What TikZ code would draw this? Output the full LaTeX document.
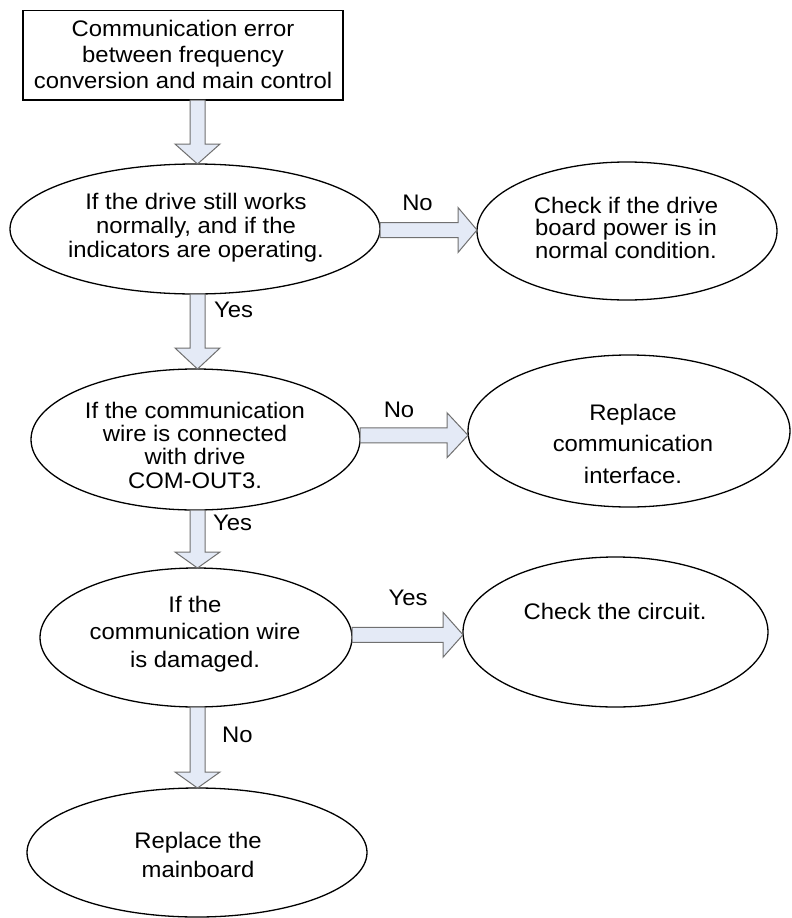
\documentclass[tikz,border=0pt]{standalone}
\usepackage{fontspec}
\setmainfont{Liberation Sans}[FakeStretch=1.06]
\usetikzlibrary{shapes.geometric,calc}
\definecolor{arrfill}{HTML}{E4EAF6}
\definecolor{arrline}{HTML}{707070}
\tikzset{
  ell/.style={ellipse, draw=black, line width=1.3pt, inner sep=0pt, outer sep=0pt, fill=white},
  boxnode/.style={rectangle, draw=black, line width=1.3pt, inner sep=0pt, outer sep=0pt, fill=white},
  txt/.style={align=center, inner sep=0pt, anchor=base, font=\fontsize{22.5}{#1}\selectfont},
  txt/.default=24,
  lbl/.style={inner sep=0pt, font=\fontsize{22.5}{27}\selectfont},
  barrow/.style={draw=arrline, fill=arrfill, line width=1pt, line join=miter},
}
% vertical block arrow: #1 source, #2 target, #3 head length
\newcommand{\blockdown}[3]{%
  \draw[barrow] let \p1=(#1), \p2=(#2) in
    (190pt,\y1) -- (205pt,\y1) -- (205pt,\y2+#3) -- (220pt,\y2+#3) -- (197.5pt,\y2)
    -- (175pt,\y2+#3) -- (190pt,\y2+#3) -- cycle;
}
% horizontal block arrow
\newcommand{\blockright}[3]{%
  \draw[barrow] let \p1=(#1), \p2=(#2), \p3=($(#1)!0.5!(#2)$) in
    (\x1,\y3+7.5pt) -- (\x2-#3,\y3+7.5pt) -- (\x2-#3,\y3+22.5pt) -- (\x2,\y3)
    -- (\x2-#3,\y3-22.5pt) -- (\x2-#3,\y3-7.5pt) -- (\x1,\y3-7.5pt) -- cycle;
}
\begin{document}
\begin{tikzpicture}[x=1pt,y=-1pt]
\useasboundingbox[fill=white] (0,0) rectangle (792,918);

% shapes
\node[boxnode, minimum width=320pt, minimum height=89.3pt] (top) at (183,55.35) {};
\node[ell, minimum width=370pt, minimum height=130pt] (e1) at (195,229) {};
\node[ell, minimum width=300pt, minimum height=138pt] (e2) at (627,231) {};
\node[ell, minimum width=329pt, minimum height=141pt] (e3) at (195.5,439.5) {};
\node[ell, minimum width=322pt, minimum height=152pt] (e4) at (629,431) {};
\node[ell, minimum width=312pt, minimum height=139pt] (e5) at (196,637.5) {};
\node[ell, minimum width=305pt, minimum height=150pt] (e6) at (615.5,632) {};
\node[ell, minimum width=340pt, minimum height=129pt] (e7) at (197,852.5) {};

% connectors
\blockdown{top.south}{e1.north}{20pt}
\blockright{e1.east}{e2.west}{19pt}
\blockdown{e1.south}{e3.north}{21pt}
\blockright{e3.east}{e4.west}{21pt}
\blockdown{e3.south}{e5.north}{16pt}
\blockright{e5.east}{e6.west}{20pt}
\blockdown{e5.south}{e7.north}{16pt}

% texts (anchor = baseline of last line)
\node[txt=26] (ttop) at (183,88) {Communication error\\between frequency\\conversion and main control};
\node[txt=23.6] (t1) at (196,257) {If the drive still works\\normally, and if the\\indicators are operating.};
\node[txt=22.5] (t2) at (626,258) {Check if the drive\\board power is in\\normal condition.};
\node[txt=23.3] (t3) at (195,488) {If the communication\\wire is connected\\with drive\\COM-OUT3.};
\node[txt=31.5] (t4) at (633,483) {Replace\\communication\\interface.};
\node[txt=27.5] (t5) at (195,667) {If the\\communication wire\\is damaged.};
\node[txt] (t6) at (615,619) {Check the circuit.};
\node[txt=29] (t7) at (198,877) {Replace the\\mainboard};

% labels
\node[lbl, anchor=base] (l1) at (417.5,210) {No};
\node[lbl, anchor=base west] (l2) at (214,317) {Yes};
\node[lbl, anchor=base] (l3) at (399,417) {No};
\node[lbl, anchor=base west] (l4) at (213,530) {Yes};
\node[lbl, anchor=base] (l5) at (408,605) {Yes};
\node[lbl, anchor=base west] (l6) at (222,742) {No};
\end{tikzpicture}
\end{document}
